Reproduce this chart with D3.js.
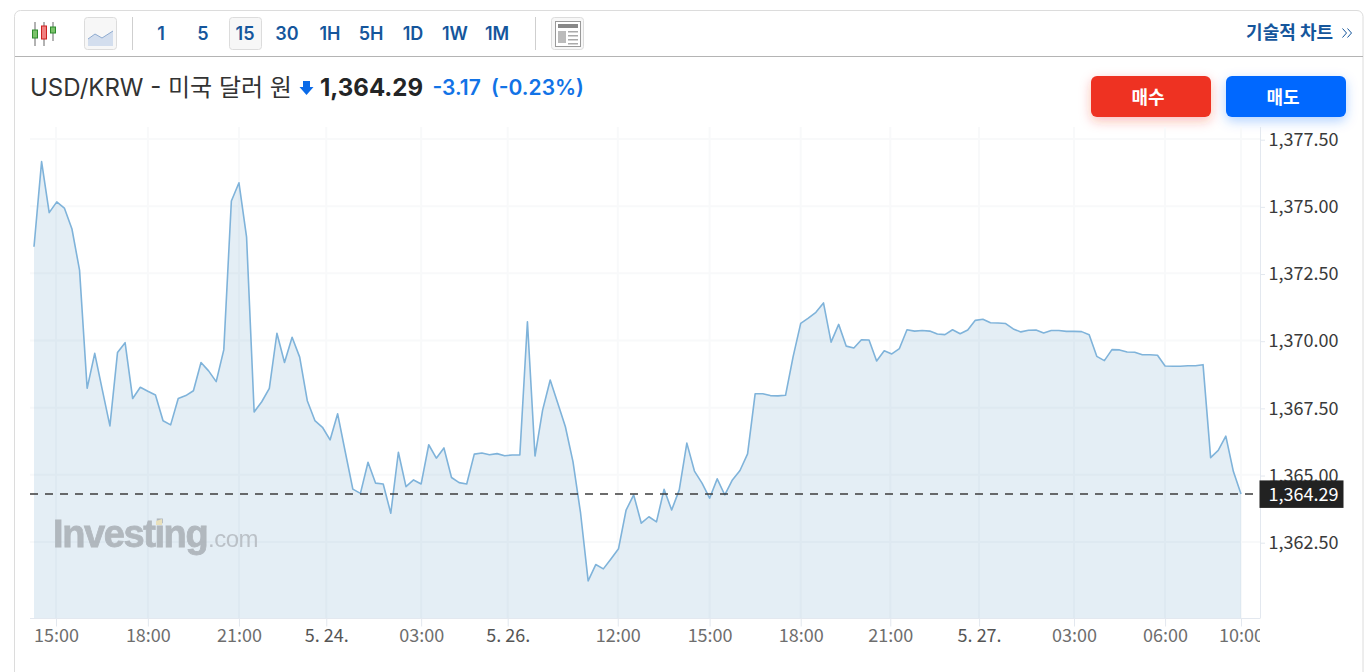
<!DOCTYPE html>
<meta charset="utf-8">
<style> /* set the CSS */

html, body {
  margin: 0;
  background: #fff;
  overflow: hidden;
}

text {
  font-family: Inter, "Noto Sans CJK KR", sans-serif;
}

.tool {
  font-size: 18px;
  font-weight: 600;
  fill: #15569c;
  text-anchor: middle;
}

.axis text {
  font-family: "Noto Sans CJK KR", "Noto Sans", sans-serif;
  font-size: 18px;
}

.axis path {
  display: none;
}

</style>
<body>

<!-- load the d3.js library -->
<script src="https://d3js.org/d3.v7.min.js"></script>
<script>

// USD/KRW 15 minute closes
var prices = [
  1373.49, 1376.66, 1374.76, 1375.16, 1374.93, 1374.15, 1372.62, 1368.22, 1369.52, 1368.16,
  1366.82, 1369.55, 1369.92, 1367.84, 1368.26, 1368.11, 1367.97, 1367.01, 1366.86, 1367.84,
  1367.95, 1368.13, 1369.18, 1368.87, 1368.47, 1369.65, 1375.19, 1375.87, 1373.86, 1367.34,
  1367.72, 1368.22, 1370.27, 1369.18, 1370.12, 1369.38, 1367.76, 1367.02, 1366.77, 1366.30,
  1367.27, 1365.86, 1364.47, 1364.31, 1365.47, 1364.69, 1364.66, 1363.57, 1365.84, 1364.56,
  1364.81, 1364.66, 1366.12, 1365.62, 1366.00, 1364.90, 1364.71, 1364.66, 1365.77, 1365.81,
  1365.75, 1365.79, 1365.71, 1365.74, 1365.74, 1370.70, 1365.70, 1367.41, 1368.53, 1367.66,
  1366.79, 1365.49, 1363.58, 1361.05, 1361.66, 1361.50, 1361.87, 1362.25, 1363.69, 1364.25,
  1363.20, 1363.44, 1363.25, 1364.46, 1363.69, 1364.44, 1366.18, 1365.14, 1364.69, 1364.13,
  1364.85, 1364.25, 1364.81, 1365.16, 1365.78, 1368.02, 1368.02, 1367.95, 1367.94, 1367.96,
  1369.40, 1370.64, 1370.83, 1371.05, 1371.40, 1369.94, 1370.60, 1369.79, 1369.72, 1370.03,
  1370.02, 1369.24, 1369.62, 1369.50, 1369.70, 1370.40, 1370.35, 1370.37, 1370.35, 1370.24,
  1370.22, 1370.40, 1370.25, 1370.39, 1370.75, 1370.79, 1370.66, 1370.65, 1370.63, 1370.43,
  1370.32, 1370.38, 1370.39, 1370.28, 1370.37, 1370.37, 1370.34, 1370.34, 1370.33, 1370.21,
  1369.41, 1369.25, 1369.66, 1369.65, 1369.57, 1369.56, 1369.47, 1369.47, 1369.45, 1369.05,
  1369.04, 1369.04, 1369.06, 1369.06, 1369.10, 1365.64, 1365.91, 1366.44, 1365.12, 1364.29
];
var lastPrice = 1364.29;

var yTicks = [1362.5, 1365, 1367.5, 1370, 1372.5, 1375, 1377.5];

// x ticks sit on the bar index they belong to
var xTickPos = [2.9, 15, 27, 38.5, 51, 62.4, 76.9, 89, 101, 112.8, 124.5, 137, 149, 159];
var xTickLabels = ["15:00", "18:00", "21:00", "5. 24.", "03:00", "5. 26.", "12:00", "15:00",
                   "18:00", "21:00", "5. 27.", "03:00", "06:00", "10:00"];

var intervals = ["1", "5", "15", "30", "1H", "5H", "1D", "1W", "1M"];
var intervalX = [161, 203, 245, 287, 330, 371, 413, 455, 497];

// plot box
var plot = {left: 30, right: 1260, top: 127, bottom: 618.5};

var x = d3.scaleLinear().domain([0, prices.length - 1]).range([34, 1241]);
var y = d3.scaleLinear().domain([1377.5, 1362.5]).range([139, 542]);

var svg = d3.select("body").append("svg")
    .attr("width", 1370)
    .attr("height", 672)
    .style("display", "block");

var defs = svg.append("defs");
// the last x label gets cut at the right edge of the plot
defs.append("clipPath").attr("id", "xclip").append("rect")
    .attr("x", 0).attr("y", -2).attr("width", plot.right).attr("height", 60);

["red", "blue"].forEach(function(name, i) {
  var f = defs.append("filter").attr("id", "glow-" + name)
      .attr("x", "-30%").attr("y", "-60%").attr("width", "160%").attr("height", "240%");
  f.append("feDropShadow")
      .attr("dx", 0).attr("dy", 4).attr("stdDeviation", 6)
      .attr("flood-color", i ? "#0068ff" : "#ee3224").attr("flood-opacity", 0.3);
});

// card outline, open at the bottom
svg.append("path")
    .attr("d", "M14.5,672V16.5a6,6 0 0 1 6,-6H1357a6,6 0 0 1 6,6V672")
    .attr("fill", "none").attr("stroke", "#dcdcdc");
svg.append("line")
    .attr("x1", 15).attr("x2", 1363).attr("y1", 56.5).attr("y2", 56.5)
    .attr("stroke", "#b4b4b4");

// toolbar: candle icon
var candles = svg.append("g");
[[35, 22, 46, 30, 38, "#7ac36a", "#2e8b2e"],
 [44, 22, 46, 26, 39, "#f08080", "#cc2222"],
 [53, 22, 41, 27, 33, "#7ac36a", "#2e8b2e"]].forEach(function(c) {
  candles.append("line").attr("x1", c[0]).attr("x2", c[0]).attr("y1", c[1]).attr("y2", c[2])
      .attr("stroke", "#666");
  candles.append("rect").attr("x", c[0] - 2.5).attr("y", c[3]).attr("width", 5).attr("height", c[4] - c[3])
      .attr("fill", c[5]).attr("stroke", c[6]);
});

// toolbar: area icon
svg.append("rect").attr("x", 84.5).attr("y", 17.5).attr("width", 32).attr("height", 32).attr("rx", 3)
    .attr("fill", "#f7f7f7").attr("stroke", "#dcdcdc");
svg.append("path").attr("d", "M88,39L95,34L102,38L113,31V46H88Z").attr("fill", "#d3deee");
svg.append("path").attr("d", "M88,39L95,34L102,38L113,31").attr("fill", "none").attr("stroke", "#8fabd0");

svg.append("line").attr("x1", 132.5).attr("x2", 132.5).attr("y1", 17).attr("y2", 50).attr("stroke", "#cfcfcf");
svg.append("line").attr("x1", 535.5).attr("x2", 535.5).attr("y1", 17).attr("y2", 50).attr("stroke", "#cfcfcf");

// selected interval
svg.append("rect").attr("x", 229.5).attr("y", 17.5).attr("width", 32).attr("height", 32).attr("rx", 3)
    .attr("fill", "#f7f7f7").attr("stroke", "#dcdcdc");

svg.selectAll("text.tool")
    .data(intervals)
  .enter().append("text")
    .attr("class", "tool")
    .attr("x", function(d, i) { return intervalX[i]; })
    .attr("y", 40)
    .text(function(d) { return d; });

// toolbar: news icon
svg.append("rect").attr("x", 551.5).attr("y", 17.5).attr("width", 32).attr("height", 32).attr("rx", 3)
    .attr("fill", "#f7f7f7").attr("stroke", "#dcdcdc");
svg.append("rect").attr("x", 555.5).attr("y", 21.5).attr("width", 25).attr("height", 25)
    .attr("fill", "#fff").attr("stroke", "#999");
svg.append("rect").attr("x", 558).attr("y", 24).attr("width", 20).attr("height", 4).attr("fill", "#888");
svg.append("rect").attr("x", 558).attr("y", 31).attr("width", 8).attr("height", 12).attr("fill", "#bbb");
[31, 35, 39, 43].forEach(function(ly) {
  svg.append("rect").attr("x", 568).attr("y", ly).attr("width", 10).attr("height", 1.5).attr("fill", "#aaa");
});

svg.append("text")
    .attr("x", 1333).attr("y", 39)
    .attr("text-anchor", "end")
    .style("font-family", '"Noto Sans CJK KR", sans-serif')
    .style("font-size", "18px").style("font-weight", 700)
    .attr("fill", "#15569c")
    .text("기술적 차트");
svg.append("path")
    .attr("d", "M1342.5,28.5l4,4.5l-4,4.5M1347.5,28.5l4,4.5l-4,4.5")
    .attr("fill", "none").attr("stroke", "#15569c");

// heading
svg.append("text")
    .attr("x", 30).attr("y", 96)
    .style("font-size", "24px")
    .attr("fill", "#333")
    .text("USD/KRW - 미국 달러 원");
svg.append("path")
    .attr("d", "M303,81h7v6h3.5l-7,8l-7,-8h3.5Z")
    .attr("fill", "#0a6ae8");
svg.append("text")
    .attr("x", 320).attr("y", 96)
    .style("font-size", "24px").style("font-weight", 700)
    .attr("fill", "#232526")
    .text("1,364.29");
svg.append("text")
    .attr("x", 432.5).attr("y", 95)
    .style("font-size", "21px").style("font-weight", 600)
    .attr("fill", "#1273e6")
    .text("-3.17");
svg.append("text")
    .attr("x", 491).attr("y", 95)
    .style("font-size", "21px").style("font-weight", 600)
    .attr("fill", "#1273e6")
    .text("(-0.23%)");

// buy and sell buttons
[{x: 1091, c: "#ee3224", f: "red", t: "매수"}, {x: 1226, c: "#0068ff", f: "blue", t: "매도"}].forEach(function(b) {
  svg.append("rect")
      .attr("x", b.x).attr("y", 76).attr("width", 120).attr("height", 41).attr("rx", 6)
      .attr("fill", b.c)
      .attr("filter", "url(#glow-" + b.f + ")");
  svg.append("text")
      .attr("x", b.x + 57).attr("y", 104)
      .attr("text-anchor", "middle")
      .style("font-family", '"Noto Sans CJK KR", sans-serif')
      .style("font-size", "18px").style("font-weight", 700)
      .attr("fill", "#fff")
      .text(b.t);
});

// grid
var grid = svg.append("g").attr("stroke", "#f8f9fa").attr("stroke-width", 2);
grid.selectAll("line.h")
    .data(yTicks)
  .enter().append("line")
    .attr("x1", plot.left).attr("x2", plot.right)
    .attr("y1", function(d) { return y(d); })
    .attr("y2", function(d) { return y(d); });
grid.selectAll("line.v")
    .data(xTickPos)
  .enter().append("line")
    .attr("y1", plot.top).attr("y2", plot.bottom)
    .attr("x1", function(d) { return x(d); })
    .attr("x2", function(d) { return x(d); });

// define the area and the line
var area = d3.area()
    .x(function(d, i) { return x(i); })
    .y0(plot.bottom)
    .y1(function(d) { return y(d); });
var valueline = d3.line()
    .x(function(d, i) { return x(i); })
    .y(function(d) { return y(d); });

svg.append("path")
    .data([prices])
    .attr("fill", "#7aaccc")
    .attr("fill-opacity", 0.2)
    .attr("d", area);

// watermark
var mark = svg.append("g").attr("opacity", 0.85);
mark.append("text")
    .attr("x", 53).attr("y", 547)
    .style("font-family", '"Liberation Sans", sans-serif')
    .style("font-size", "38px").style("font-weight", 700).style("letter-spacing", "-1.4px")
    .attr("fill", "#a9afb5")
    .attr("stroke", "#a9afb5")
    .attr("stroke-width", 0.8)
    .text("Investing");
mark.append("text")
    .attr("x", 208).attr("y", 547)
    .style("font-family", '"Liberation Sans", sans-serif')
    .style("font-size", "24px").style("letter-spacing", "-0.5px")
    .attr("fill", "#b4bac0")
    .text(".com");
mark.append("path")
    .attr("d", "M156,521L162,519V525H156Z")
    .attr("fill", "#eadfb4");

svg.append("path")
    .data([prices])
    .attr("fill", "none")
    .attr("stroke", "#7fb3da")
    .attr("stroke-width", 1.6)
    .attr("stroke-linejoin", "round")
    .attr("d", valueline);

// axis frame
svg.append("line")
    .attr("x1", plot.left).attr("x2", plot.right)
    .attr("y1", plot.bottom).attr("y2", plot.bottom)
    .attr("stroke", "#e3e8ef");
svg.append("line")
    .attr("x1", plot.right + 0.5).attr("x2", plot.right + 0.5)
    .attr("y1", plot.top).attr("y2", plot.bottom)
    .attr("stroke", "#e3e8ef");

// Add the X Axis
var xAxis = svg.append("g")
    .attr("class", "axis")
    .attr("clip-path", "url(#xclip)")
    .attr("transform", "translate(0," + plot.bottom + ")")
    .call(d3.axisBottom(x)
      .tickValues(xTickPos)
      .tickSize(8)
      .tickPadding(3)
      .tickFormat(function(d, i) { return xTickLabels[i]; }));
xAxis.selectAll("line").attr("stroke", "#e3e8ef");
xAxis.selectAll("text")
    .attr("fill", function(d, i) { return xTickLabels[i].indexOf(":") < 0 ? "#555" : "#6e6e6e"; });

// Add the Y Axis
var yAxis = svg.append("g")
    .attr("class", "axis")
    .attr("transform", "translate(" + plot.right + ",0.7)")
    .call(d3.axisRight(y)
      .tickValues(yTicks)
      .tickSize(5)
      .tickPadding(3.5)
      .tickFormat(d3.format(",.2f")));
yAxis.selectAll("line").attr("stroke", "#e3e8ef");
yAxis.selectAll("text").attr("fill", "#3a3a3a");

// last price marker
svg.append("line")
    .attr("x1", plot.left).attr("x2", plot.right - 2)
    .attr("y1", Math.round(y(lastPrice))).attr("y2", Math.round(y(lastPrice)))
    .attr("stroke", "#3c3c3c")
    .attr("stroke-width", 1.3)
    .attr("stroke-dasharray", "8,7");
svg.append("rect")
    .attr("x", 1259.5).attr("y", y(lastPrice) - 13.5)
    .attr("width", 84).attr("height", 27.5)
    .attr("fill", "#222");
svg.append("text")
    .attr("x", 1268.5).attr("y", y(lastPrice) + 1.5)
    .attr("dy", "0.32em")
    .style("font-family", '"Noto Sans CJK KR", sans-serif')
    .style("font-size", "18px")
    .attr("fill", "#fff")
    .text(d3.format(",.2f")(lastPrice));

</script>
</body>
